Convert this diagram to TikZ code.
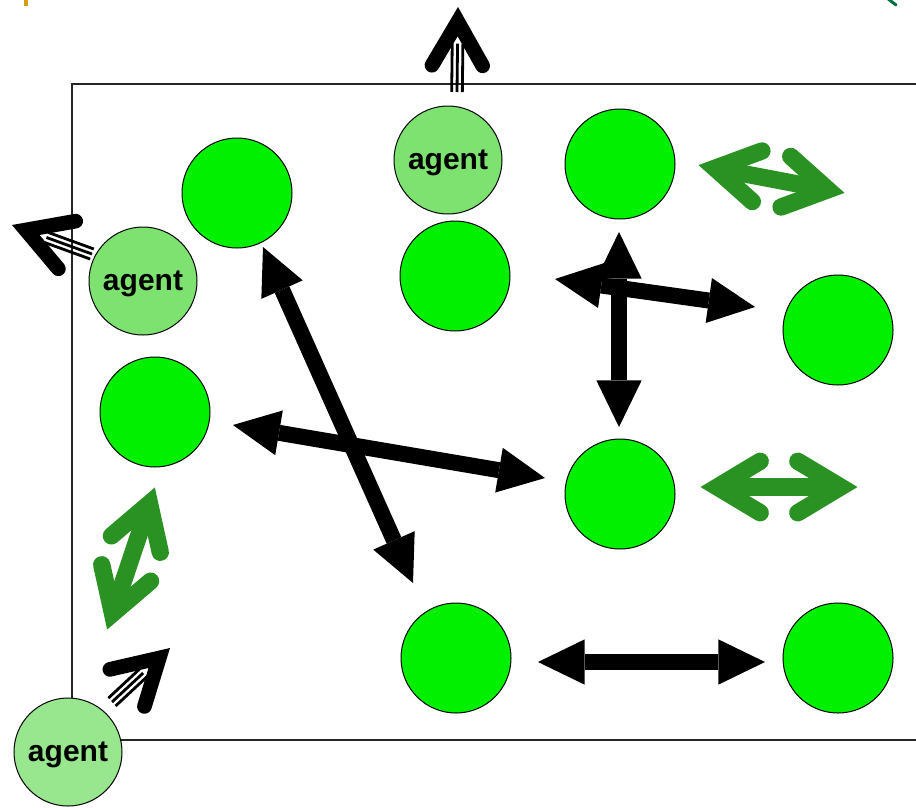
\documentclass[tikz,border=0pt]{standalone}
\usepackage{fontspec}
\setmainfont{Liberation Sans}
\usetikzlibrary{arrows.meta,calc}
\definecolor{cellgreen}{RGB}{0,240,0}
\definecolor{agentA}{RGB}{126,226,112}
\definecolor{agentB}{RGB}{152,230,142}
\definecolor{arrowgreen}{RGB}{42,146,34}
\definecolor{markorange}{RGB}{212,160,23}
\definecolor{markgreen}{RGB}{0,110,60}
\tikzset{
 cell/.style={circle, draw=black, line width=0.75pt, fill=cellgreen, minimum size=82.5pt, inner sep=0pt},
 agentnode/.style={circle, draw=black, line width=0.75pt, minimum size=81pt, inner sep=0pt, text depth=0pt, font=\fontsize{22.5pt}{27pt}\selectfont\bfseries},
 blockarrow/.style={line width=12pt, {Triangle[length=35pt,width=34pt,line width=0pt]}-{Triangle[length=35pt,width=34pt,line width=0pt]}},
 chev/.style={line width=13pt, arrowgreen, line cap=round, line join=miter, miter limit=10},
 gshaft/.style={line width=13pt, arrowgreen},
 echev/.style={line width=11pt, black, line cap=round, line join=miter, miter limit=10},
 eline/.style={line width=2.1pt, black},
 boxline/.style={line width=0.9pt, black!85},
}
\newcommand{\greendouble}[2]{%
 \coordinate (#1v) at ($(#1)!13pt!(#2)$);
 \coordinate (#2v) at ($(#2)!13pt!(#1)$);
 \draw[gshaft] (#1v) -- (#2v);
 \draw[chev] ($(#1v)!37.5pt!31:(#2)$) -- (#1v) -- ($(#1v)!37.5pt!-31:(#2)$);
 \draw[chev] ($(#2v)!37.5pt!31:(#1)$) -- (#2v) -- ($(#2v)!37.5pt!-31:(#1)$);
}
\newcommand{\escapearrow}[2]{%
 \coordinate (#1v) at ($(#1)!11pt!(#2)$);
 \coordinate (#1q) at ($(#1v)!16.5pt!(#2)$);
 \draw[eline] (#1q) -- (#2);
 \draw[eline] ($(#1q)!4pt!90:(#2)$) -- ($(#2)!4pt!-90:(#1q)$);
 \draw[eline] ($(#1q)!4pt!-90:(#2)$) -- ($(#2)!4pt!90:(#1q)$);
 \draw[echev] ($(#1v)!38pt!30:(#2)$) -- (#1v) -- ($(#1v)!38pt!-30:(#2)$);
}
\begin{document}
\begin{tikzpicture}[x=0.75pt,y=-0.75pt]
\useasboundingbox (0,0) rectangle (916,807);
\clip (0,0) rectangle (916,807);
% box
\draw[boxline] (72,84) rectangle (960,740);
% corner marks
\fill[markorange] (24,0) rectangle (28,6);
\draw[markgreen, line width=2.25pt, line cap=round] (887,-2) -- (896,5);
% cells
\node[cell] (c1) at (237,193) {};
\node[cell] (c2) at (455,276) {};
\node[cell] (c3) at (620,164) {};
\node[cell] (c4) at (838,330) {};
\node[cell] (c5) at (155,412) {};
\node[cell] (c6) at (620,494) {};
\node[cell] (c7) at (456,658) {};
\node[cell] (c8) at (838,658) {};
% agents
\node[agentnode, fill=agentA] (a1) at (448,160) {agent};
\node[agentnode, fill=agentA] (a2) at (143,281) {agent};
\node[agentnode, fill=agentB] (a3) at (68,752) {agent};
% black block arrows
\coordinate (b1s) at (263,247); \coordinate (b1e) at (413,583);
\coordinate (b2s) at (233,425); \coordinate (b2e) at (545,478);
\coordinate (b3s) at (619,232); \coordinate (b3e) at (619,427);
\coordinate (b4s) at (555,279); \coordinate (b4e) at (755,307);
\coordinate (b5s) at (538,662); \coordinate (b5e) at (765,662);
\draw[blockarrow] (b1s) -- (b1e);
\draw[blockarrow] (b2s) -- (b2e);
\draw[blockarrow] (b4s) -- (b4e);
\draw[blockarrow] (b3s) -- (b3e);
\draw[blockarrow] (b5s) -- (b5e);
% green double arrows
\coordinate (gaA) at (698,165); \coordinate (gaB) at (845,193);
\coordinate (gbA) at (700,487); \coordinate (gbB) at (858,487);
\coordinate (gcA) at (155,487); \coordinate (gcB) at (107,630);
\greendouble{gaA}{gaB}
\greendouble{gbA}{gbB}
\greendouble{gcA}{gcB}
% escape arrows
\coordinate (e1) at (458,7);   \coordinate (e1b) at (457,92);
\coordinate (e2) at (12,225);  \coordinate (e2b) at (92,254);
\coordinate (e3) at (170,648); \coordinate (e3b) at (112,702);
\escapearrow{e1}{e1b}
\escapearrow{e2}{e2b}
\escapearrow{e3}{e3b}
\end{tikzpicture}
\end{document}
